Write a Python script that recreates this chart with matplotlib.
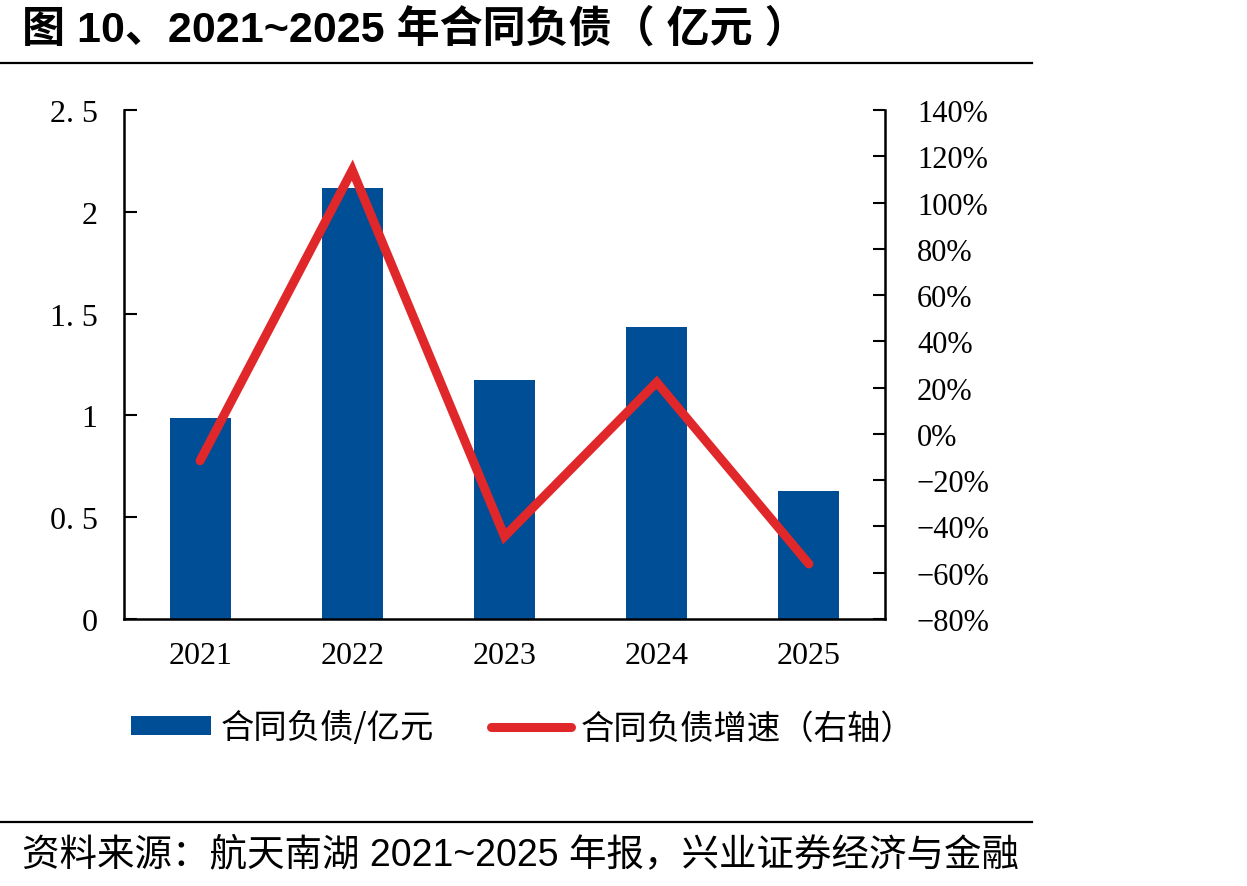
import matplotlib
matplotlib.use("Agg")
import matplotlib.pyplot as plt
from matplotlib.lines import Line2D
from matplotlib.patches import Patch
from matplotlib.ticker import FixedLocator

years = ["2021", "2022", "2023", "2024", "2025"]
liabilities = [0.985, 2.118, 1.176, 1.436, 0.627]      # 亿元
growth = [-11.6, 114.0, -44.3, 22.3, -56.2]            # %
left_ticks = [0, 0.5, 1, 1.5, 2, 2.5]
left_labels = ["0", "0. 5", "1", "1. 5", "2", "2. 5"]
right_ticks = [-80, -60, -40, -20, 0, 20, 40, 60, 80, 100, 120, 140]
right_labels = ["−80%", "−60%", "−40%", "−20%", "0%", "20%", "40%", "60%", "80%", "100%", "120%", "140%"]

BLUE = "#004E96"
RED = "#E0282A"
SANS = ["Liberation Sans", "Noto Sans CJK SC"]
CJK = ["Noto Sans CJK SC", "DejaVu Sans"]
SERIF = ["Liberation Serif", "DejaVu Serif"]

W, H = 1247, 887
fig = plt.figure(figsize=(W / 100, H / 100), dpi=100)

def fx(px):
    return px / W

def fy(py):
    return 1 - py / H

ax = fig.add_axes([fx(124), fy(620), fx(885) - fx(124), fy(111) - fy(620)])
x = list(range(len(years)))
ax.bar(x, liabilities, width=0.4, color=BLUE, zorder=2)
ax.set_xlim(-0.5, 4.5)
ax.set_ylim(0, 2.5)
ax.yaxis.set_major_locator(FixedLocator(left_ticks))
ax.set_yticklabels(left_labels, fontfamily=SERIF, fontsize=23)
ax.set_xticks(x)
ax.set_xticklabels(years, fontfamily=SERIF, fontsize=23)
ax.tick_params(axis="x", length=0, pad=16)
ax.tick_params(axis="y", direction="in", length=9, width=1.5, pad=19)
ax.spines["top"].set_visible(False)
ax.spines["right"].set_visible(False)
for s in ["left", "bottom"]:
    ax.spines[s].set_linewidth(1.8)

ax2 = ax.twinx()
ax2.plot(x, growth, color=RED, lw=6.5, solid_capstyle="round", solid_joinstyle="miter", zorder=3)
ax2.set_ylim(-80, 140)
ax2.yaxis.set_major_locator(FixedLocator(right_ticks))
ax2.set_yticklabels(right_labels, fontfamily=SERIF, fontsize=22)
ax2.tick_params(axis="y", direction="in", length=9, width=1.5, pad=23)
ax2.spines["top"].set_visible(False)
ax2.spines["left"].set_visible(False)
ax2.spines["bottom"].set_visible(False)
ax2.spines["right"].set_linewidth(1.8)
for lab in ax2.get_yticklabels():
    lab.set_horizontalalignment("left")

# Title and rules
fig.text(fx(22), fy(30), "图 10、2021~2025 年合同负债（ 亿元 ）", fontfamily=SANS,
         fontweight="bold", fontsize=31, va="center", ha="left")
fig.add_artist(Line2D([0, fx(1032)], [fy(64), fy(64)], color="black", lw=1.6))
fig.add_artist(Line2D([0, fx(1032)], [fy(823), fy(823)], color="black", lw=1.6))
fig.text(fx(22), fy(856), "资料来源：航天南湖 2021~2025 年报，兴业证券经济与金融", fontfamily=SANS,
         fontsize=27, va="center", ha="left")

handles = [Patch(facecolor=BLUE, edgecolor="none", label="合同负债/亿元"),
           Line2D([], [], color=RED, lw=6.5, solid_capstyle="round", label="合同负债增速（右轴）")]
fig.legend(handles=handles, loc="center left", bbox_to_anchor=(fx(101), fy(729)), ncol=2,
           frameon=False, prop={"family": CJK, "size": 24}, handlelength=2.4, handleheight=0.5,
           handletextpad=0.3, columnspacing=1.7)

fig.savefig("out.png", dpi=100)
